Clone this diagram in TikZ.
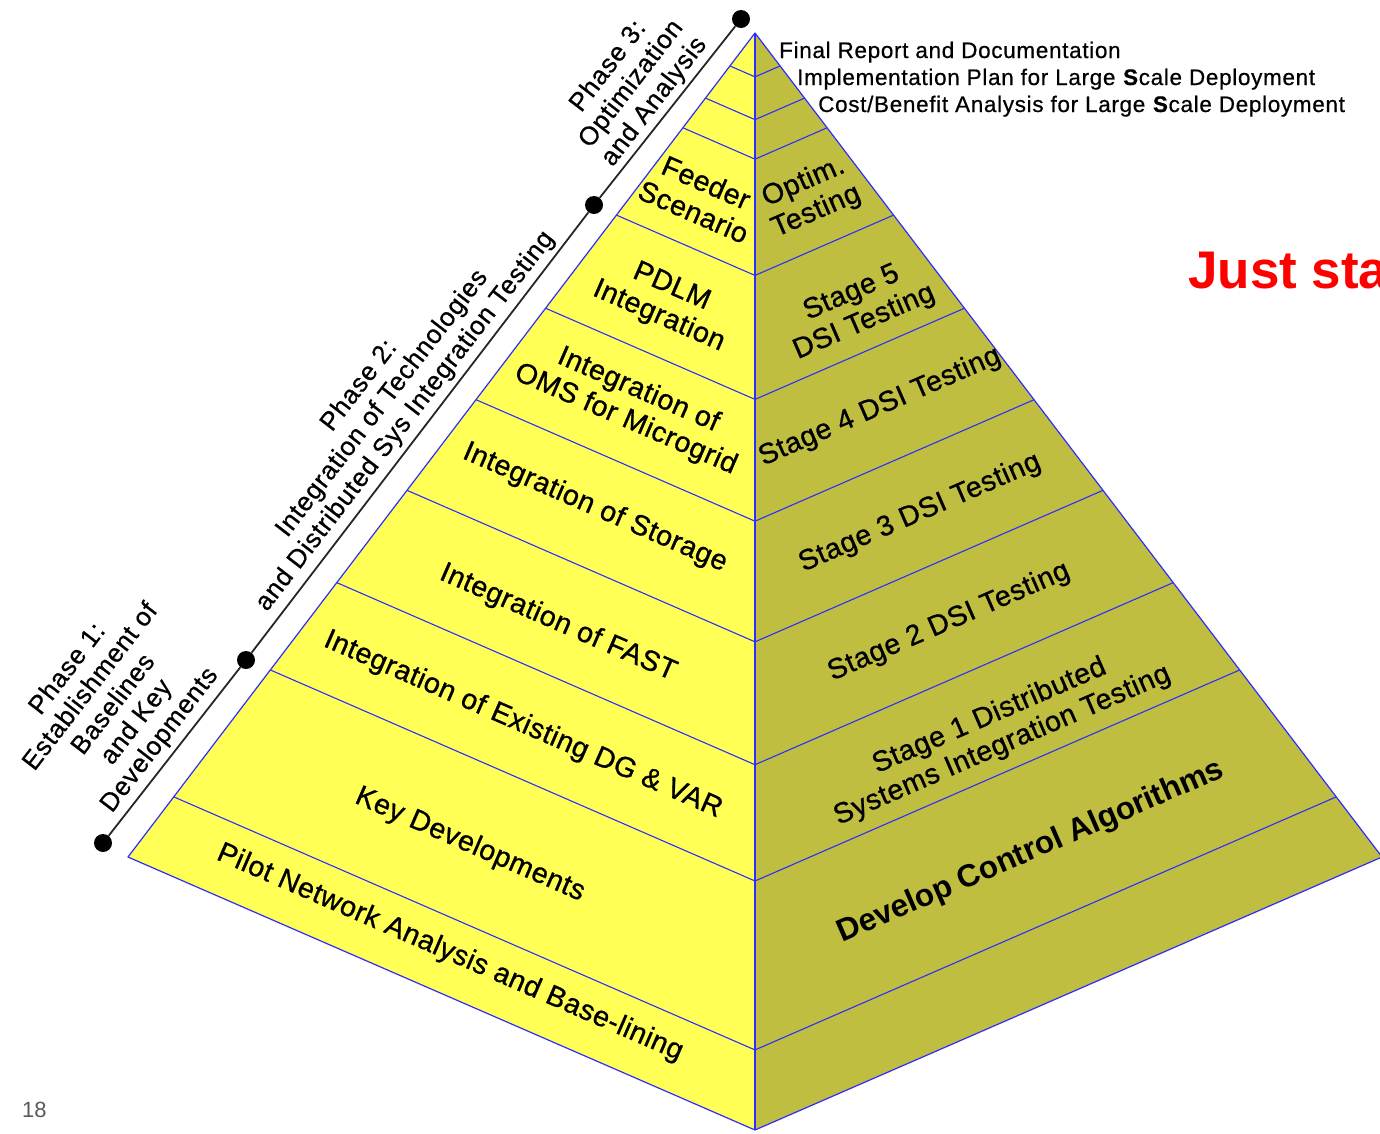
\documentclass[tikz,border=0pt]{standalone}
\usepackage{fontspec}
\setmainfont{Liberation Sans}
\newfontfamily\labfont[LetterSpace=2,FakeBold=0.9]{Liberation Sans}
\newfontfamily\notefont[LetterSpace=3,FakeBold=0.6]{Liberation Sans}
\usetikzlibrary{calc}

\definecolor{faceleft}{RGB}{255,255,85}
\definecolor{faceright}{RGB}{192,190,64}
\definecolor{edgeblue}{RGB}{45,45,255}
\definecolor{pagenum}{RGB}{90,90,90}

\begin{document}
\begin{tikzpicture}[x=1pt,y=-1pt,
  face/.style={draw=edgeblue, line width=1.2pt, line join=round},
  band/.style={draw=edgeblue, line width=1.1pt},
  lbl/.style={font=\labfont\fontsize{28.5}{32}\selectfont, align=center, inner sep=0pt},
  leftlbl/.style={lbl, rotate=-23.5},
  rightlbl/.style={lbl, rotate=23.5},
  phase/.style={font=\notefont\fontsize{26}{29}\selectfont, align=center, inner sep=0pt, rotate=52.4, anchor=south},
  toplbl/.style={font=\notefont\fontsize{22.5}{26}\selectfont, anchor=base west, inner sep=0pt},
  dot/.style={circle, fill=black, minimum size=18pt, inner sep=0pt},
  phaseline/.style={draw=black!85, line width=1.8pt}
]
\useasboundingbox (0,0) rectangle (1380,1133);
\begin{scope}
\clip (0,0) rectangle (1380,1133);

% pyramid corners
\coordinate (A) at (755,33);
\coordinate (L) at (128,857);
\coordinate (B) at (755,1130);
\coordinate (R) at (1382,857);

% the two faces
\fill[faceleft] (A) -- (L) -- (B) -- cycle;
\fill[faceright] (A) -- (B) -- (R) -- cycle;

% band boundaries
\foreach \t in {0.040,0.079,0.115,0.221,0.334,0.445,0.555,0.667,0.773,0.927}{
  \draw[band] ($(A)!\t!(L)$) -- ($(A)!\t!(B)$) -- ($(A)!\t!(R)$);
}
\draw[face] (A) -- (L) -- (B) -- (R) -- cycle;
\draw[face] (A) -- (B);

% left face labels
\node[leftlbl] (feeder) at (700,197) {Feeder\\Scenario};
\node[leftlbl] (pdlm) at (665,302) {PDLM\\Integration};
\node[leftlbl] (oms) at (632,405) {Integration of\\OMS for Microgrid};
\node[leftlbl] (storage) at (595,508) {Integration of Storage};
\node[leftlbl] (fast) at (558,623) {Integration of FAST};
\node[leftlbl] (dgvar) at (523,725) {Integration of Existing DG \& VAR};
\node[leftlbl] (keydev) at (470,845) {Key Developments};
\node[leftlbl] (pilot) at (450,953) {Pilot Network Analysis and Base-lining};

% right face labels
\node[rightlbl] (optim) at (810,197) {Optim.\\Testing};
\node[rightlbl] (st5) at (858,308) {Stage 5\\DSI Testing};
\node[rightlbl] (st4) at (880,407) {Stage 4 DSI Testing};
\node[rightlbl] (st3) at (920,513) {Stage 3 DSI Testing};
\node[rightlbl] (st2) at (949,622) {Stage 2 DSI Testing};
\node[rightlbl] (st1) at (996,731) {Stage 1 Distributed\\Systems Integration Testing};
\node[rotate=23.5, inner sep=0pt, font=\bfseries\fontsize{31.5}{36}\selectfont] (dca) at (1031,852) {Develop Control Algorithms};

% top three thin bands
\node[toplbl] (final) at (779,58) {Final Report and Documentation};
\node[toplbl] (impl) at (797,85) {Implementation Plan for Large \textbf{S}cale Deployment};
\node[toplbl] (cost) at (818,112) {Cost/Benefit Analysis for Large \textbf{S}cale Deployment};

% phase time line
\node[dot] (d0) at (103,843) {};
\node[dot] (d1) at (246,660) {};
\node[dot] (d2) at (594,205) {};
\node[dot] (d3) at (741,19) {};
\draw[phaseline] (d0) -- (d1);
\draw[phaseline] (d1) -- (d2);
\draw[phaseline] (d2) -- (d3);

\coordinate (m1) at ($(d0)!0.5!(d1)$);
\coordinate (m2) at ($(d1)!0.5!(d2)$);
\coordinate (m3) at ($(d2)!0.5!(d3)$);
\node[phase] (ph1) at ($(m1)!6pt!90:(d1)$) {Phase 1:\\Establishment of\\Baselines\\and Key\\Developments};
\node[phase] (ph2) at ($(m2)!6pt!90:(d2)$) {Phase 2:\\Integration of Technologies\\and Distributed Sys Integration Testing};
\node[phase] (ph3) at ($(m3)!4pt!90:(d3)$) {Phase 3:\\Optimization\\and Analysis};

% side note and page number
\node[anchor=base west, inner sep=0pt, text=red, font=\bfseries\fontsize{53}{60}\selectfont] (note) at (1188,288) {Just sta};
\node[anchor=base west, inner sep=0pt, text=pagenum, font=\fontsize{22}{26}\selectfont] (pnum) at (22,1117) {18};
\end{scope}
\end{tikzpicture}
\end{document}
